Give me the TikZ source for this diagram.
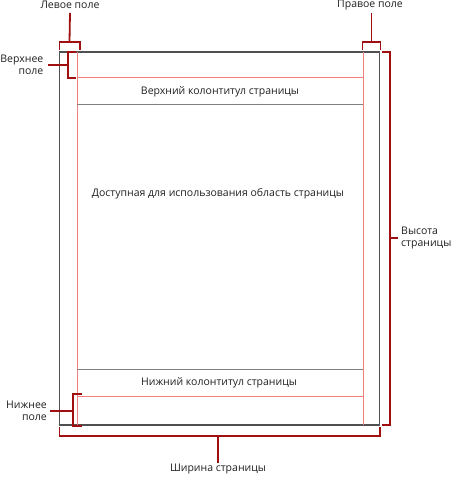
\documentclass[tikz,border=0pt]{standalone}
\usepackage{fontspec}
\setmainfont{Open Sans}
\definecolor{pageline}{HTML}{505050}
\definecolor{grayline}{HTML}{808080}
\definecolor{marginred}{HTML}{F08080}
\definecolor{bracketred}{HTML}{A01010}
\definecolor{txt}{HTML}{202020}
\begin{document}
\begin{tikzpicture}[x=1pt,y=-1pt,
  pageframe/.style={draw=pageline,line width=1.1pt},
  guide/.style={draw=grayline,line width=0.8pt},
  margin/.style={draw=marginred,line width=0.8pt},
  bracket/.style={draw=bracketred,line width=1.8pt},
  lbl/.style={font=\fontsize{10.5}{12.5}\selectfont,text=txt,inner sep=0pt},
  txtnode/.style={lbl,anchor=center}]
\useasboundingbox (0,0) rectangle (454,478);
% page
\coordinate (pTL) at (59.5,52);
\coordinate (pBR) at (379.5,425);
\draw[pageframe] (pTL) rectangle (pBR);
% margin lines
\coordinate (mL1) at (77,52);   \coordinate (mL2) at (77,425);
\coordinate (mR1) at (363,52);  \coordinate (mR2) at (363,425);
\coordinate (mT1) at (77,77);   \coordinate (mT2) at (363,77);
\coordinate (mB1) at (77,396);  \coordinate (mB2) at (363,396);
\draw[margin] (mL1) -- (mL2);
\draw[margin] (mR1) -- (mR2);
\draw[margin] (mT1) -- (mT2);
\draw[margin] (mB1) -- (mB2);
% header/footer lines
\coordinate (h1) at (77,104); \coordinate (h2) at (363,104);
\coordinate (f1) at (77,369.5); \coordinate (f2) at (363,369.5);
\draw[guide] (h1) -- (h2);
\draw[guide] (f1) -- (f2);
% texts inside page
\node[txtnode] (header) at (220,92) {Верхний колонтитул страницы};
\node[txtnode] (body) at (218,194) {Доступная для использования область страницы};
\node[txtnode] (footer) at (219,382.5) {Нижний колонтитул страницы};
% left margin bracket
\node[txtnode] (lm) at (70,5) {Левое поле};
\coordinate (lmS) at (69.5,41.7);
\draw[bracket] (59.5,50) -- (59.5,41.7) -- (80,41.7) -- (80,50);
\draw[bracket] (lmS) -- (lm.south |- 0,13);
% right margin bracket
\node[txtnode] (rm) at (370,5) {Правое поле};
\coordinate (rmS) at (371.5,41.7);
\draw[bracket] (362.5,50) -- (362.5,41.7) -- (380.5,41.7) -- (380.5,50);
\draw[bracket] (rmS) -- (rmS |- 0,13);
% top margin bracket
\node[lbl,anchor=east,align=right] (tm) at (43.5,65) {Верхнее\\поле};
\coordinate (tmS) at (67.7,65);
\draw[bracket] (76,51.7) -- (67.7,51.7) -- (67.7,78.3) -- (76,78.3);
\draw[bracket] (tmS) -- (47.5,65);
% bottom margin bracket
\node[lbl,anchor=east,align=right] (bm) at (47,411) {Нижнее\\поле};
\coordinate (bmS) at (72.7,411);
\draw[bracket] (81.5,394.3) -- (72.7,394.3) -- (72.7,426) -- (81.5,426);
\draw[bracket] (bmS) -- (50,411);
% height bracket
\node[lbl,anchor=west,align=left] (ht) at (401,238) {Высота\\страницы};
\coordinate (htS) at (390,238);
\draw[bracket] (381.5,51.7) -- (390,51.7) -- (390,425) -- (381.5,425);
\draw[bracket] (htS) -- (398,238);
% width bracket
\node[txtnode] (wd) at (218,469) {Ширина страницы};
\coordinate (wdS) at (218.3,435.7);
\draw[bracket] (59.5,427) -- (59.5,435.7) -- (380,435.7) -- (380,427);
\draw[bracket] (wdS) -- (218.3,463);
\end{tikzpicture}
\end{document}
